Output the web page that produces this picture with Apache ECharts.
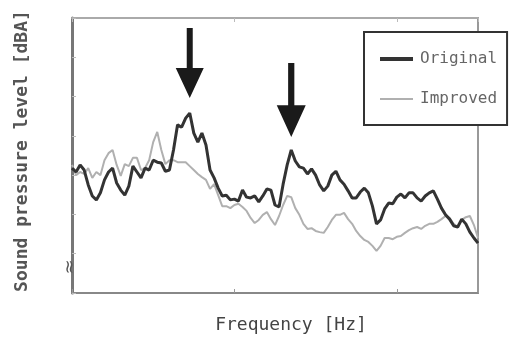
<!DOCTYPE html>
<html>
<head>
<meta charset="utf-8">
<script src="https://cdn.jsdelivr.net/npm/echarts@6/dist/echarts.min.js"></script>
<style>html,body{margin:0;padding:0;background:#fff;}#c{width:513px;height:338px;}</style>
</head>
<body>
<div id="c"></div>
<script>
// Frequency position along the axis (relative units, 0..100)
const frequency = [0,1,2,3,4,5,6,7,8,9,10,11,12,13,14,15,16,17,18,19,20,21,22,23,24,25,26,27,28,29,30,31,32,33,34,35,36,37,38,39,40,41,42,43,44,45,46,47,48,49,50,51,52,53,54,55,56,57,58,59,60,61,62,63,64,65,66,67,68,69,70,71,72,73,74,75,76,77,78,79,80,81,82,83,84,85,86,87,88,89,90,91,92,93,94,95,96,97,98,99,100];
// Sound pressure level (relative dBA units)
const originalLevel = [31.8,30.8,32.6,31.3,27.5,24.7,23.7,25.5,28.8,30.8,31.8,28.0,26.2,24.9,27.2,32.3,30.8,29.3,31.8,31.3,33.8,33.3,33.1,31.0,31.3,36.4,42.8,42.2,44.5,45.8,40.7,38.4,40.7,37.7,31.3,29.3,26.7,24.7,24.9,23.7,23.9,23.4,26.2,24.4,24.2,24.7,23.2,24.7,26.5,26.2,22.4,21.9,27.7,32.6,36.4,33.6,32.1,31.8,30.3,31.6,30.0,27.5,26.0,27.2,30.0,31.0,28.8,27.7,26.0,24.2,24.2,25.7,26.7,25.5,22.1,17.6,18.6,21.4,22.9,22.7,24.4,25.2,24.2,25.5,25.5,24.2,23.4,24.7,25.5,26.0,23.9,21.6,19.9,18.8,17.1,16.8,18.8,17.6,15.5,14.0,12.7];
const improvedLevel = [32.6,30.0,30.8,30.3,31.8,29.3,30.8,30.0,33.8,35.6,36.4,32.6,29.8,32.8,32.3,34.4,34.4,31.3,31.8,33.8,38.4,41.0,36.4,32.8,33.8,33.8,33.3,33.3,33.3,32.3,31.3,30.3,29.5,28.8,26.5,27.7,24.9,22.1,22.1,21.6,22.4,22.7,21.9,20.9,19.1,17.8,18.6,19.9,20.6,18.8,17.3,19.6,22.4,24.7,24.4,21.6,19.9,17.6,16.3,16.5,15.8,15.5,15.3,16.8,18.6,19.9,19.9,20.4,18.8,17.6,15.8,14.5,13.5,13.0,12.0,10.7,12.0,14.0,14.0,13.7,14.3,14.5,15.3,16.0,16.5,16.8,16.3,17.1,17.6,17.6,18.1,18.8,19.6,19.1,17.6,16.8,18.6,19.3,19.6,17.3,14.0];
const seriesNames = ['Original', 'Improved'];
// Peaks marked with arrows [frequency, level]
const peakMarks = [[29, 45.8], [54, 36.4]];

const chart = echarts.init(document.getElementById('c'), null, {renderer: 'canvas'});
const pair = (xs, ys) => xs.map((x, i) => [x, ys[i]]);
const arrowPath = 'path://M11,0 L17,0 L17,40 L28,40 L14,70 L0,40 L11,40 Z';

const option = {
  backgroundColor: '#fff',
  animation: false,
  grid: {left: 72, top: 18, right: 35, bottom: 45, show: true, borderColor: '#999', borderWidth: 2},
  legend: {
    data: [
      {name: seriesNames[0], icon: 'path://M0,0 L33,0 L33,4 L0,4 Z'},
      {name: seriesNames[1], icon: 'path://M0,0 L33,0 L33,2 L0,2 Z'}
    ],
    orient: 'vertical',
    left: 364, top: 32,
    padding: [19, 10, 18, 16],
    itemWidth: 33, itemHeight: 14, itemGap: 24,
    symbolKeepAspect: true,
    backgroundColor: '#fff',
    borderColor: '#333', borderWidth: 2,
    textStyle: {fontFamily: 'DejaVu Sans Mono', fontSize: 16, lineHeight: 14, color: '#666', padding: [0,0,0,2]}
  },
  xAxis: [{
    type: 'value', min: 0, max: 100, interval: 40,
    axisLine: {show: true, lineStyle: {color: '#888', width: 2}},
    axisTick: {show: true, inside: true, length: 4, lineStyle: {color: '#999'}},
    axisLabel: {show: false}, splitLine: {show: false}
  }, {
    type: 'value', min: 0, max: 100, interval: 40, position: 'top',
    axisLine: {show: true, lineStyle: {color: '#aaa', width: 2}},
    axisTick: {show: true, inside: true, length: 4, lineStyle: {color: '#bbb'}},
    axisLabel: {show: false}, splitLine: {show: false}
  }],
  yAxis: {
    type: 'value', min: 0, max: 70, interval: 10,
    axisLine: {show: true, lineStyle: {color: '#777', width: 3}},
    axisTick: {show: true, inside: true, length: 4, lineStyle: {color: '#bbb'}},
    axisLabel: {show: false}, splitLine: {show: false}
  },
  series: [{
    name: seriesNames[0], type: 'line', data: pair(frequency, originalLevel),
    symbol: 'none', z: 3,
    lineStyle: {color: '#333', width: 3}, itemStyle: {color: '#333'},
    markPoint: {
      symbol: arrowPath,
      label: {show: false},
      itemStyle: {color: '#1a1a1a'},
      data: [
        {coord: peakMarks[0], symbolSize: [28, 70], symbolOffset: [0, -50]},
        {coord: peakMarks[1], symbolSize: [29, 74], symbolOffset: [0, -50]}
      ]
    }
  }, {
    name: seriesNames[1], type: 'line', data: pair(frequency, improvedLevel),
    symbol: 'none', z: 2,
    lineStyle: {color: '#b0b0b0', width: 2}, itemStyle: {color: '#b0b0b0'}
  }],
  graphic: [
    {type: 'text', x: 22, y: 151, rotation: Math.PI/2,
     style: {text: 'Sound pressure level [dBA]', fontFamily: 'DejaVu Sans Mono', fontWeight: 'bold', fontSize: 18, fill: '#555', align: 'center', verticalAlign: 'middle'}},
    {type: 'text', x: 291, y: 325,
     style: {text: 'Frequency [Hz]', fontFamily: 'DejaVu Sans Mono', fontSize: 18, fill: '#444', align: 'center', verticalAlign: 'middle'}},
    {type: 'text', x: 70, y: 267, rotation: Math.PI/2, z: 10,
     style: {text: '≈', fontFamily: 'DejaVu Sans', fontSize: 18, fill: '#555', align: 'center', verticalAlign: 'middle'}}
  ]
};
chart.setOption(option);
</script>
</body>
</html>
